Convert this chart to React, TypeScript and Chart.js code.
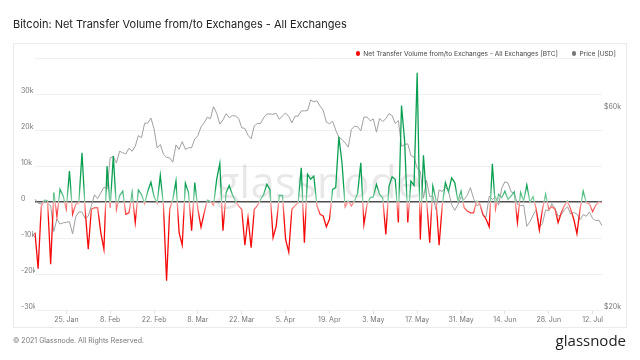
import React, { useEffect, useRef } from 'react';
import { Chart, registerables } from 'chart.js';

Chart.register(...registerables);

// ---------- data ----------
const START_YEAR = 2021;
const START_MONTH = 0; // January
const START_DAY = 15;
const MONTHS = ['Jan', 'Feb', 'Mar', 'Apr', 'May', 'Jun', 'Jul', 'Aug', 'Sep', 'Oct', 'Nov', 'Dec'];

const TICK_LABELS = ['25. Jan', '8. Feb', '22. Feb', '8. Mar', '22. Mar', '5. Apr', '19. Apr', '3. May', '17. May', '31. May', '14. Jun', '28. Jun', '12. Jul'];
const LEFT_TICKS = [-30000, -20000, -10000, 0, 10000, 20000, 30000, 40000];
const RIGHT_TICKS = [20000, 60000];

// Net transfer volume from/to exchanges [BTC], daily
const NET_FLOW = [
  -8500, -18500, -1200, 500, 400, -17300, 2600, -3900, 3500, 1700,
  -2000, 8600, -3400, -600, -200, 13700, -2000, -13100, -2000, -1600,
  -1600, -8500, -13100, 10000, -1600, 12800, -2000, 1700, 3000, -3400,
  -3000, 2600, -5700, 3300, 2100, -500, 3000, 5500, 1500, -300,
  7400, -1000, -21900, -2000, 700, 5800, -8500, -12000, 5200, 2600,
  -8000, 5400, -2000, -7000, -3000, 500, 200, -900, 6300, 10700,
  -8000, 2600, 4600, 2100, 300, -1100, -2000, -12000, -4300, -12700,
  -2000, -1000, 700, 2100, 4900, 3500, -9900, -6700, 1800, 1800,
  -10400, -13900, -2000, -1000, -200, 9500, -11300, 7700, 6300, 7200,
  -1000, -3400, -3900, -6900, -4800, 3500, 4000, 18100, 10900, -1300,
  300, -1100, 300, 2500, 10900, -6200, -600, 1200, 1400, 4900,
  2100, 1200, -9000, 4400, 7000, 6300, -5700, 26800, 16900, -5700,
  5800, 4600, 35900, -10400, 13000, 700, -11300, 4400, 700, -12000,
  -1000, 5400, 2800, 6700, 5400, 300, 3000, -1600, -2500, -3000,
  -3000, 300, -600, -3400, -4800, -6900, 10600, -1900, 2100, 1200,
  3000, 700, 1700, 2800, -5700, 2600, 300, 4700, 0, 1500,
  -2000, -7800, -2000, 2100, -2000, -1300, -2000, -5700, -3000, -1000,
  300, -2000, -4800, -8800, -2000, 3000, -200, -500, -2700, -900,
  0, -200,
];

// Price [USD], daily
const PRICE = [
  36800, 36000, 35800, 36600, 35900, 35500, 30800, 33000, 32100, 32300,
  32400, 32500, 30400, 33400, 34300, 34300, 33100,
  33500, 35500, 37700, 36900, 38100, 39300, 38900, 46200, 46500, 44900,
  47900, 47500, 47200, 48700, 47900, 49200, 52200, 51600, 55900, 55900,
  57500, 54200, 48800, 49700, 47100, 46300, 46200, 45100,
  49600, 48400, 50500, 48400, 48800, 48900, 51200, 52200, 54800, 56000,
  57800, 57300, 61200, 59000, 55600, 56900, 58900, 57600, 58300, 58100,
  57400, 54500, 54300, 52300, 51300, 55100, 55800, 55800, 57600, 58800, 58800,
  58700, 59000, 57100, 58200, 59100, 58000, 56000, 58100, 58100, 59800,
  59800, 59900, 63500, 62900, 63200, 61400, 60000, 56200, 55700, 56500,
  53800, 51700, 51100, 50100, 49000, 54000, 55000, 54800, 53600, 57800,
  57800, 56600, 57200, 53200, 57400, 56400, 57300, 58900, 58300, 55800,
  56700, 49200, 49700, 49900, 46800, 46400, 43600, 42900, 37000, 40800,
  37300, 37500, 34700, 38700, 38400, 39300, 38500, 35700, 34600, 35700, 37300,
  36700, 37600, 39200, 36900, 35500, 35800, 33600, 33400, 37400, 36700,
  37300, 35600, 39100, 40500, 40200, 38300, 38100, 35800, 35500, 35600,
  31700, 32500, 33700, 34700, 31600, 32200, 34700, 34500, 35900, 35000,
  33500, 33800, 34700, 35300, 33900, 34200, 33900, 32900, 33800, 33500,
  34300, 33100, 32700, 32800, 31800,
];

const DATES = NET_FLOW.map((_, i) => {
  const d = new Date(Date.UTC(START_YEAR, START_MONTH, START_DAY + i));
  return `${d.getUTCDate()}. ${MONTHS[d.getUTCMonth()]}`;
});

// ---------- styling ----------
const FONT = 'Inter, "Noto Sans", sans-serif';
const GREEN = 'rgb(8,160,80)';
const GREEN_LIGHT = 'rgb(150,215,178)';
const RED = 'rgb(245,10,10)';
const RED_LIGHT = 'rgb(255,170,170)';

function flowGradient(context: any) {
  const chart = context.chart;
  const area = chart.chartArea;
  if (!area) return RED;
  const y0 = chart.scales.y.getPixelForValue(0);
  const h = area.bottom - area.top;
  const z = Math.min(1, Math.max(0, (y0 - area.top) / h));
  const f = 16 / h;
  const g = chart.ctx.createLinearGradient(0, area.top, 0, area.bottom);
  g.addColorStop(0, GREEN);
  g.addColorStop(Math.max(0, z - f), GREEN);
  g.addColorStop(z, GREEN_LIGHT);
  g.addColorStop(z, RED_LIGHT);
  g.addColorStop(Math.min(1, z + f), RED);
  g.addColorStop(1, RED);
  return g;
}

const watermark = {
  id: 'watermark',
  beforeDatasetsDraw(chart: any) {
    const { ctx, chartArea } = chart;
    ctx.save();
    const text = 'glassnode';
    ctx.font = '500 46px "Open Sans"';
    const w = ctx.measureText(text).width;
    const size = 46 * 206 / w;
    ctx.font = `500 ${size.toFixed(1)}px "Open Sans"`;
    ctx.fillStyle = 'rgba(0,0,0,0.09)';
    ctx.textAlign = 'center';
    ctx.textBaseline = 'alphabetic';
    ctx.fillText(text, (chartArea.left + chartArea.right) / 2, chartArea.top + 140);
    ctx.restore();
  },
};

export default function App() {
  const canvasRef = useRef<HTMLCanvasElement | null>(null);

  useEffect(() => {
    const canvas = canvasRef.current;
    if (!canvas) return;
    const chart = new Chart(canvas, {
      type: 'line',
      data: {
        labels: DATES,
        datasets: [
          {
            label: 'Net Transfer Volume from/to Exchanges - All Exchanges [BTC]',
            data: NET_FLOW,
            yAxisID: 'y',
            borderColor: flowGradient,
            borderWidth: 1.3,
            pointRadius: 0,
            tension: 0,
            fill: false,
          },
          {
            label: 'Price [USD]',
            data: PRICE,
            yAxisID: 'y1',
            borderColor: 'rgb(160,160,160)',
            borderWidth: 1,
            pointRadius: 0,
            tension: 0,
            fill: false,
          },
        ],
      },
      options: {
        responsive: false,
        animation: false,
        devicePixelRatio: 1,
        layout: { padding: { left: 21, right: 0, top: 58, bottom: 35 } },
        plugins: { legend: { display: false }, tooltip: { enabled: false }, title: { display: false } },
        scales: {
          x: {
            type: 'category',
            border: { display: false },
            grid: { drawOnChartArea: false, drawTicks: true, tickLength: 4, color: '#e2e2e2' },
            ticks: {
              autoSkip: false,
              maxRotation: 0,
              minRotation: 0,
              padding: 2,
              color: '#777',
              font: { family: FONT, size: 7 },
            },
            afterBuildTicks: (scale: any) => {
              scale.ticks = scale.ticks.filter((t: any) => TICK_LABELS.includes(DATES[t.value]));
            },
            afterFit: (scale: any) => { scale.height = 15; },
          },
          y: {
            type: 'linear',
            position: 'left',
            min: -30000,
            max: 40000,
            border: { display: false },
            grid: {
              drawTicks: false,
              color: (c: any) => (c.tick && c.tick.value === 0 ? '#4d4d4d' : '#f0f0f0'),
              lineWidth: (c: any) => (c.tick && c.tick.value === 0 ? 1.5 : 1),
            },
            ticks: {
              crossAlign: 'far',
              labelOffset: -3,
              color: '#777',
              font: { family: FONT, size: 7 },
              callback: (v: any) => (v === 0 ? '0' : v === 40000 ? '' : `${v / 1000}k`),
            },
            afterBuildTicks: (scale: any) => {
              scale.ticks = LEFT_TICKS.map((v) => ({ value: v }));
            },
            afterFit: (scale: any) => { scale.width = 14; },
          },
          y1: {
            type: 'logarithmic',
            position: 'right',
            min: 20000,
            max: 80000,
            border: { display: false },
            grid: { display: false, drawOnChartArea: false, drawTicks: false, tickLength: 0 },
            ticks: {
              padding: 2,
              labelOffset: -3,
              color: '#777',
              font: { family: FONT, size: 7 },
              callback: (v: any) => `$${Math.round(Number(v) / 1000)}k`,
            },
            afterBuildTicks: (scale: any) => {
              scale.ticks = RIGHT_TICKS.map((v) => ({ value: v }));
            },
            afterFit: (scale: any) => { scale.width = 38; },
          },
        },
      } as any,
      plugins: [watermark],
    });
    return () => chart.destroy();
  }, []);

  const text = { position: 'absolute' as const, fontFamily: FONT, whiteSpace: 'nowrap' as const };
  const dot = (color: string) => ({ display: 'inline-block', width: 4.5, height: 4.5, borderRadius: '50%', background: color, flex: 'none' as const });

  return (
    <div style={{ position: 'fixed', left: 0, top: 0, width: 640, height: 360, background: '#fff', overflow: 'hidden' }}>
      <canvas ref={canvasRef} width={640} height={360} style={{ position: 'absolute', left: 0, top: 0, width: 640, height: 360 }} />
      <div style={{ position: 'absolute', left: 13, top: 43, width: 612, height: 283, border: '1px solid #ebebeb' }} />
      <div style={{ ...text, left: 13, top: 17, fontSize: 11, lineHeight: '14px', color: '#222' }}>
        Bitcoin: Net Transfer Volume from/to Exchanges - All Exchanges
      </div>
      <div style={{ position: 'absolute', right: 24, top: 48, height: 11, display: 'flex', alignItems: 'center', fontFamily: FONT, fontSize: 6.6, color: '#444', whiteSpace: 'nowrap' }}>
        <span style={dot(RED)} />
        <span style={{ marginLeft: 3 }}>Net Transfer Volume from/to Exchanges - All Exchanges [BTC]</span>
        <span style={{ ...dot('#777'), marginLeft: 14 }} />
        <span style={{ marginLeft: 3 }}>Price [USD]</span>
      </div>
      <div style={{ ...text, left: 13, top: 336, fontSize: 7, lineHeight: '10px', color: '#777' }}>
        © 2021 Glassnode. All Rights Reserved.
      </div>
      <div style={{ ...text, right: 14, top: 331, fontSize: 15, lineHeight: '18px', color: '#1e1e1e', fontFamily: '"Open Sans", sans-serif' }}>
        glassnode
      </div>
    </div>
  );
}
